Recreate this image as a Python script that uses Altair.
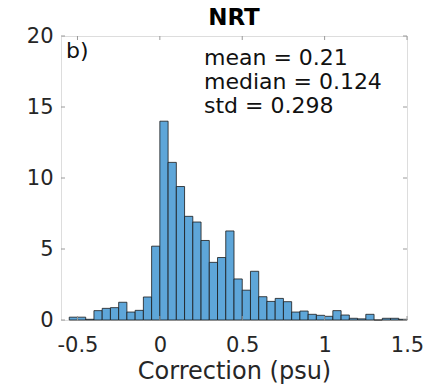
import altair as alt
import pandas as pd

# Bin left edges (psu) and bar heights (% of profiles)
bin_start = [-0.55, -0.50, -0.45, -0.40, -0.35, -0.30, -0.25, -0.20, -0.15, -0.10,
             -0.05, 0.00, 0.05, 0.10, 0.15, 0.20, 0.25, 0.30, 0.35, 0.40,
             0.45, 0.50, 0.55, 0.60, 0.65, 0.70, 0.75, 0.80, 0.85, 0.90,
             0.95, 1.00, 1.05, 1.10, 1.15, 1.20, 1.25, 1.30, 1.35, 1.40, 1.45]
bin_end = [-0.50, -0.45, -0.40, -0.35, -0.30, -0.25, -0.20, -0.15, -0.10, -0.05,
           0.00, 0.05, 0.10, 0.15, 0.20, 0.25, 0.30, 0.35, 0.40, 0.45,
           0.50, 0.55, 0.60, 0.65, 0.70, 0.75, 0.80, 0.85, 0.90, 0.95,
           1.00, 1.05, 1.10, 1.15, 1.20, 1.25, 1.30, 1.35, 1.40, 1.45, 1.50]
heights = [0.2, 0.2, 0.05, 0.66, 0.82, 0.87, 1.25, 0.56, 0.68, 1.62,
           5.2, 14.0, 11.1, 9.4, 7.3, 6.9, 5.6, 4.06, 4.4, 6.27,
           2.89, 2.1, 3.43, 1.64, 1.31, 1.52, 1.29, 0.56, 0.63, 0.4,
           0.33, 0.26, 0.66, 0.35, 0.12, 0.08, 0.4, 0.0, 0.12, 0.12, 0.05]

x_ticks = [-0.5, 0, 0.5, 1, 1.5]
y_ticks = [0, 5, 10, 15, 20]
stats_lines = ["mean = 0.21", "median = 0.124", "std = 0.298"]
panel_label = "b)"
title_text = "NRT"
x_title = "Correction (psu)"

W, H = 346, 284
FONT = "DejaVu Sans"
TXT = "#262626"
FRAME = "#9a9a9a"

df = pd.DataFrame({"x0": bin_start, "x1": bin_end, "h": heights})
xs = alt.Scale(domain=[-0.6, 1.5], nice=False, zero=False)
ys = alt.Scale(domain=[0, 20], nice=False)

bars = alt.Chart(df).mark_rect(
    color="#5ea6d9", stroke="#1a1a1a", strokeWidth=0.8
).encode(
    x=alt.X("x0:Q", scale=xs, title=x_title,
            axis=alt.Axis(values=x_ticks, ticks=False, domain=False, grid=False,
                          labelFontSize=21, labelFont=FONT, labelColor=TXT,
                          labelPadding=14, labelFlush=False, labelOverlap=False,
                          labelExpr="datum.value + ''",
                          titleFontSize=24, titleFont=FONT, titleColor=TXT,
                          titleFontWeight="normal", titlePadding=4)),
    x2="x1:Q",
    y=alt.Y("h:Q", scale=ys, title=None,
            axis=alt.Axis(values=y_ticks, ticks=False, domain=False, grid=False,
                          labelFontSize=21, labelFont=FONT, labelColor=TXT,
                          labelPadding=8, labelFlush=False, labelOverlap=False)),
    y2=alt.datum(0),
)

xt = pd.DataFrame({"v": x_ticks})
yt = pd.DataFrame({"v": y_ticks})
tick_col = FRAME
xb = alt.Chart(xt).mark_rule(color=tick_col, strokeWidth=1).encode(
    x=alt.X("v:Q", scale=xs), y=alt.value(H), y2=alt.value(H - 4))
xtop = alt.Chart(xt).mark_rule(color=tick_col, strokeWidth=1).encode(
    x=alt.X("v:Q", scale=xs), y=alt.value(0), y2=alt.value(4))
yl = alt.Chart(yt).mark_rule(color=tick_col, strokeWidth=1).encode(
    y=alt.Y("v:Q", scale=ys), x=alt.value(0), x2=alt.value(4))
yr = alt.Chart(yt).mark_rule(color=tick_col, strokeWidth=1).encode(
    y=alt.Y("v:Q", scale=ys), x=alt.value(W), x2=alt.value(W - 4))

text_layers = []
line_y = [29, 53, 77]
for txt, yy in zip(stats_lines, line_y):
    text_layers.append(
        alt.Chart(pd.DataFrame({"t": [txt]})).mark_text(
            align="left", baseline="alphabetic", fontSize=22, font=FONT, color="#111111"
        ).encode(text="t:N", x=alt.value(143), y=alt.value(yy))
    )

pl = alt.Chart(pd.DataFrame({"t": [panel_label]})).mark_text(
    align="left", baseline="alphabetic", fontSize=22, font=FONT, color="#111111"
).encode(text="t:N", x=alt.value(5), y=alt.value(22))

ttl = alt.Chart(pd.DataFrame({"t": [title_text]})).mark_text(
    align="center", baseline="alphabetic", fontSize=23, fontWeight="bold",
    font=FONT, color="#000000"
).encode(text="t:N", x=alt.value(W / 2), y=alt.value(-11))

chart = alt.layer(bars, xb, xtop, yl, yr, *text_layers, pl, ttl).properties(
    width=W, height=H,
    autosize=alt.AutoSizeParams(type="none"),
    padding={"left": 61, "top": 36, "right": 30, "bottom": 65},
).configure_view(
    stroke=FRAME, strokeWidth=1.2
).configure(background="white")

chart.save("out.html", embed_options={"renderer": "svg", "actions": False})
